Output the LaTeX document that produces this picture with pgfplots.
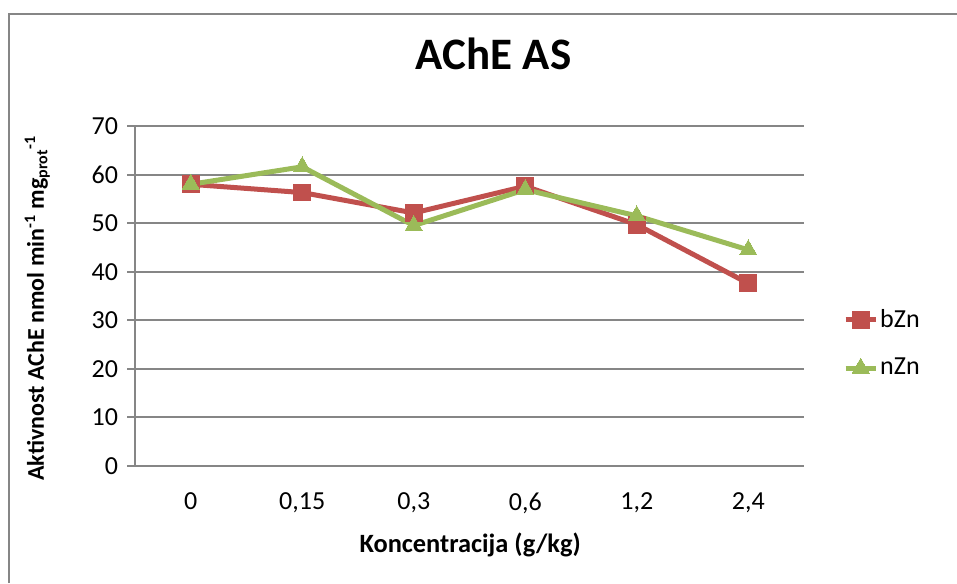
\documentclass[border=0pt]{standalone}
\usepackage{fontspec}
\setmainfont{Carlito}
\usepackage{pgfplots}
\pgfplotsset{compat=1.18}
\usepackage{pgfplotstable}

\definecolor{bzn}{HTML}{C0504D}
\definecolor{nzn}{HTML}{9BBB59}
\definecolor{gridc}{HTML}{868686}

% x: kategorija (0 = 0, 1 = 0,15, 2 = 0,3, 3 = 0,6, 4 = 1,2, 5 = 2,4)
\pgfplotstableread{
x bZn nZn
0 58.0 58.0
1 56.3 61.6
2 52.1 49.5
3 57.6 56.9
4 49.7 51.5
5 37.6 44.5
}\ache

\begin{document}
\begin{tikzpicture}
\useasboundingbox (0,0) rectangle (478.5pt,-291.5pt);
\draw[gridc, line width=1pt] (4.5pt,-291.5pt) -- (4.5pt,-7pt) -- (478.5pt,-7pt);
\begin{axis}[
  at={(67.5pt,-233pt)}, anchor=south west,
  scale only axis, width=334.5pt, height=170pt,
  xmin=-0.5, xmax=5.5, ymin=0, ymax=70,
  xtick={0,...,5},
  xticklabels={0,{0,15},{0,3},{0,6},{1,2},{2,4}},
  major x tick style={draw=none},
  extra x ticks={-0.5,0.5,1.5,2.5,3.5,4.5,5.5},
  extra x tick labels={},
  extra x tick style={tick style={gridc, line width=1pt}, major tick length=6pt},
  ytick={0,10,...,70},
  tick align=outside, major tick length=4pt,
  tick style={gridc, line width=1pt},
  ymajorgrids, grid style={gridc, line width=1pt},
  axis x line*=bottom, axis y line*=left,
  axis line style={gridc, line width=1pt, -},
  /pgf/number format/assume math mode=true,
  tick label style={font=\fontsize{13}{15}\selectfont},
  xticklabel style={yshift=-6pt},
  yticklabel style={xshift=-1pt},
  title={\bfseries AChE AS},
  title style={font=\fontsize{22.5}{26}\selectfont, at={(axis description cs:0.536,1.176)}, anchor=center},
  xlabel={\bfseries Koncentracija (g/kg)},
  xlabel style={font=\fontsize{13.2}{15}\selectfont, at={(axis description cs:0.501,-0.232)}, anchor=center},
  ylabel={\bfseries Aktivnost AChE nmol min\textsuperscript{-1} mg\textsubscript{prot}\textsuperscript{-1}},
  ylabel style={font=\fontsize{12}{14}\selectfont, at={(axis description cs:-0.146,0.465)}, anchor=center},
  legend style={draw=none, fill=none, at={(axis description cs:1.058,0.36)}, anchor=west,
    font=\fontsize{13}{15}\selectfont, row sep=10pt, inner sep=0pt,
    nodes={inner xsep=1pt},
    /tikz/every even column/.append style={column sep=0pt}},
  legend image code/.code={
    \draw[#1] (0pt,0pt) -- (15pt,0pt);
    \draw[#1] plot coordinates {(7.5pt,0pt)};
  },
  legend cell align=left,
]
\addplot[bzn, line width=2.5pt, mark=square*, mark size=4.2pt, mark options={solid, line width=0pt}]
  table[x=x, y=bZn] {\ache};
\addlegendentry{bZn}
\addplot[nzn, line width=2.5pt, mark=triangle*, mark size=5pt, mark options={solid, line width=0pt}]
  table[x=x, y=nZn] {\ache};
\addlegendentry{nZn}
\end{axis}
\end{tikzpicture}
\end{document}
